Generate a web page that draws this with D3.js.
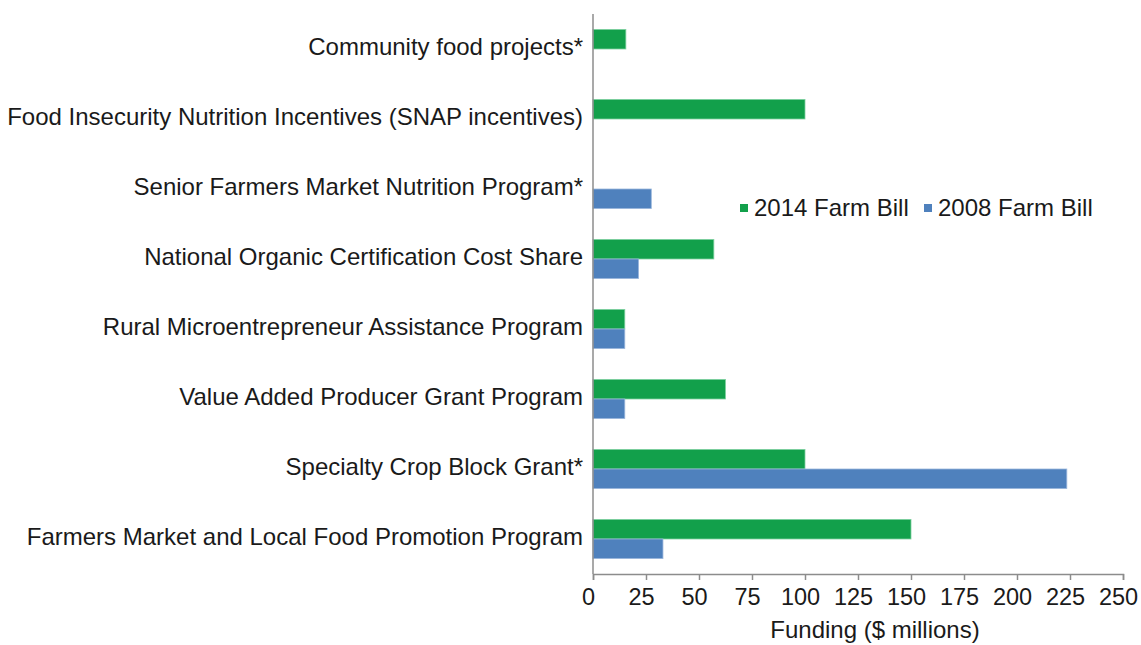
<!DOCTYPE html>
<html>
<head>
<meta charset="utf-8">
<script src="https://cdn.jsdelivr.net/npm/d3@7"></script>
<style>
  body { margin: 0; background: #fff; }
  svg text { font-family: "Liberation Sans", Arial, sans-serif; fill: #1a1a1a; }
</style>
</head>
<body>
<svg id="svg" width="1141" height="645"></svg>
<script>
    // programs, top to bottom
    var programs = ['Community food projects*',
                    'Food Insecurity Nutrition Incentives (SNAP incentives)',
                    'Senior Farmers Market Nutrition Program*',
                    'National Organic Certification Cost Share',
                    'Rural Microentrepreneur Assistance Program',
                    'Value Added Producer Grant Program',
                    'Specialty Crop Block Grant*',
                    'Farmers Market and Local Food Promotion Program'];
    var series = ['2014 Farm Bill', '2008 Farm Bill'];
    var bill2014 = [15.5, 100, 0, 57, 15, 62.5, 100, 150];
    var bill2008 = [0, 0, 27.5, 21.5, 15, 15, 223.5, 33];
    var ticks = [0, 25, 50, 75, 100, 125, 150, 175, 200, 225, 250];
    var colors = ['#12a04b', '#4f81bd'];

    var svg = d3.select("#svg"),
        plotLeft = 593, plotRight = 1123, plotTop = 14, plotBottom = 574,
        fontSize = "24px";

    var x = d3.scaleLinear().domain([0, 250]).range([plotLeft, plotRight]);
    var y = d3.scaleBand().domain(programs).range([plotTop, plotBottom])
        .paddingInner(0.44).paddingOuter(0.22);
    var ys = d3.scaleBand().domain(series).range([0, y.bandwidth()]);

    var rows = programs.map(function (p, i) {
        return {name: p, values: [bill2014[i], bill2008[i]]};
    });

    //bars
    var g = svg.append("g");
    var row = g.selectAll(".row")
        .data(rows)
        .enter().append("g")
        .attr("class", "row")
        .attr("transform", function (d) { return "translate(0," + y(d.name) + ")"; });
    row.selectAll("rect")
        .data(function (d) {
            return d.values.map(function (v, k) { return {s: series[k], v: v, k: k}; })
                .filter(function (e) { return e.v > 0; });
        })
        .enter().append("rect")
        .attr("x", x(0))
        .attr("y", function (d) { return ys(d.s); })
        .attr("width", function (d) { return x(d.v) - x(0); })
        .attr("height", ys.bandwidth())
        .attr("fill", function (d) { return colors[d.k]; })
        .attr("stroke", function (d) { return d.k ? "#9bb7dc" : "#7fd0a0"; })
        .attr("stroke-width", 0.8);

    //category labels
    svg.append("g").selectAll("text")
        .data(programs)
        .enter().append("text")
        .attr("x", plotLeft - 10)
        .attr("y", function (d) { return y(d) + y.bandwidth() / 2 - 2; })
        .attr("dy", "0.35em")
        .attr("text-anchor", "end")
        .style("font-size", fontSize)
        .text(function (d) { return d; });

    //axes
    var xAxis = svg.append("g")
        .attr("transform", "translate(0," + plotBottom + ")")
        .call(d3.axisBottom(x).tickValues(ticks).tickSize(6).tickPadding(8).tickSizeOuter(6));
    xAxis.selectAll("line,path").attr("stroke", "#8c8c8c").attr("stroke-width", 1.5);
    xAxis.selectAll("text").style("font-size", "23.5px").attr("fill", "#1a1a1a")
        .attr("x", -5)
        .attr("font-family", "Liberation Sans, Arial, sans-serif");

    svg.append("line")
        .attr("x1", plotLeft).attr("x2", plotLeft)
        .attr("y1", plotTop).attr("y2", plotBottom)
        .attr("stroke", "#8c8c8c").attr("stroke-width", 1.5);

    svg.append("text")
        .attr("x", 875).attr("y", 638)
        .attr("text-anchor", "middle")
        .style("font-size", fontSize)
        .text("Funding ($ millions)");

    //legend
    var legend = svg.append("g").attr("transform", "translate(740,208)");
    var item = legend.selectAll("g")
        .data(series)
        .enter().append("g")
        .attr("transform", function (d, i) { return "translate(" + (i * 184) + ",0)"; });
    item.append("rect")
        .attr("x", 0).attr("y", -4)
        .attr("width", 8).attr("height", 8)
        .attr("fill", function (d, i) { return colors[i]; });
    item.append("text")
        .attr("x", 14).attr("dy", "0.35em")
        .style("font-size", fontSize)
        .text(function (d) { return d; });
</script>
</body>
</html>
